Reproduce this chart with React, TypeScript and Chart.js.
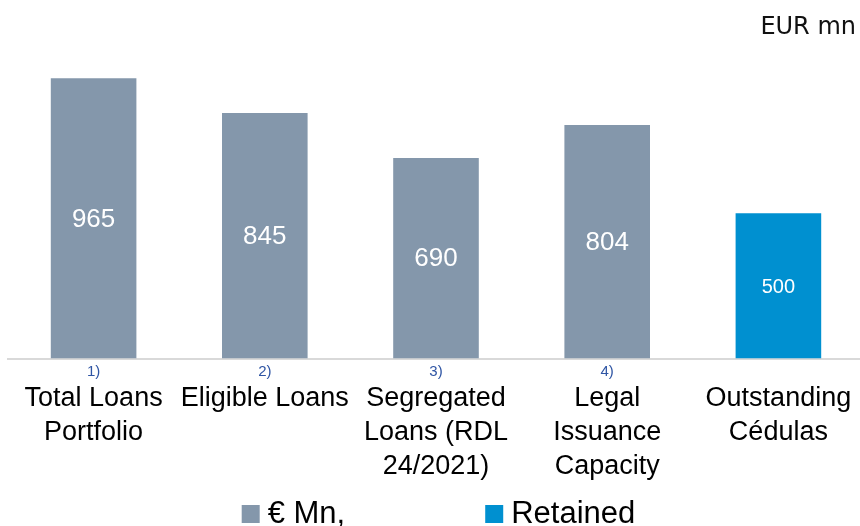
import React, { useEffect, useRef } from "react";
import { Chart, registerables } from "chart.js";

Chart.register(...registerables);

const categories: string[][] = [
  ["Total Loans", "Portfolio"],
  ["Eligible Loans"],
  ["Segregated", "Loans (RDL", "24/2021)"],
  ["Legal", "Issuance", "Capacity"],
  ["Outstanding", "Cédulas"],
];
const footnotes = ["1)", "2)", "3)", "4)", ""];
const seriesNames = ["€ Mn,", "Retained"];
const mnValues = [965, 845, 690, 804, null];
const retainedValues = [null, null, null, null, 500];
const unitLabel = "EUR mn";

const GRAY = "#8497AB";
const BLUE = "#0090D0";

const overlayPlugin = {
  id: "overlay",
  afterDatasetsDraw(chart: any) {
    const ctx = chart.ctx as CanvasRenderingContext2D;
    ctx.save();
    // value labels inside bars
    chart.data.datasets.forEach((ds: any, di: number) => {
      const meta = chart.getDatasetMeta(di);
      meta.data.forEach((el: any, i: number) => {
        const v = ds.data[i];
        if (v == null) return;
        const p = el.getProps(["x", "y", "base"], true);
        ctx.font = di === 0 ? '26px "Liberation Sans"' : '20px "Liberation Sans"';
        ctx.fillStyle = "#ffffff";
        ctx.textAlign = "center";
        ctx.textBaseline = "middle";
        ctx.fillText(String(v), p.x, (p.y + p.base) / 2 + (di === 0 ? 1 : 2));
      });
    });
    // footnote markers under axis
    const xs = chart.scales.x;
    ctx.font = '15px "Liberation Sans"';
    ctx.fillStyle = "#2F55A4";
    ctx.textAlign = "center";
    ctx.textBaseline = "middle";
    footnotes.forEach((f, i) => {
      if (!f) return;
      ctx.fillText(f, xs.getPixelForValue(i), xs.top + 13);
    });
    // unit label
    ctx.font = '24px "DejaVu Sans"';
    ctx.fillStyle = "#111";
    ctx.textAlign = "right";
    ctx.textBaseline = "middle";
    ctx.fillText(unitLabel, 856, 28);
    // legend
    ctx.font = '31px "Liberation Sans"';
    const box = 18;
    const gapText = 8;
    const gapItems = 140;
    const widths = chart.data.datasets.map(
      (ds: any) => box + gapText + ctx.measureText(ds.label).width
    );
    const total = widths.reduce((a: number, b: number) => a + b, 0) + gapItems * (widths.length - 1);
    let x = 438.5 - total / 2;
    const cy = 514;
    chart.data.datasets.forEach((ds: any, di: number) => {
      ctx.fillStyle = ds.backgroundColor;
      ctx.fillRect(x, cy - box / 2, box, box);
      ctx.fillStyle = "#000";
      ctx.textAlign = "left";
      ctx.textBaseline = "middle";
      ctx.fillText(ds.label, x + box + gapText, cy);
      x += widths[di] + gapItems;
    });
    ctx.restore();
  },
};

export default function App() {
  const ref = useRef<HTMLCanvasElement | null>(null);
  useEffect(() => {
    if (!ref.current) return;
    const chart = new Chart(ref.current, {
      type: "bar",
      data: {
        labels: categories,
        datasets: [
          {
            label: seriesNames[0],
            data: mnValues,
            backgroundColor: GRAY,
            grouped: false,
            barPercentage: 0.5,
            categoryPercentage: 1,
          } as any,
          {
            label: seriesNames[1],
            data: retainedValues,
            backgroundColor: BLUE,
            grouped: false,
            barPercentage: 0.5,
            categoryPercentage: 1,
          } as any,
        ],
      },
      options: {
        responsive: false,
        maintainAspectRatio: false,
        animation: false,
        layout: { padding: { left: 8, right: 6, top: 68, bottom: 0 } },
        plugins: {
          legend: { display: false },
          tooltip: { enabled: false },
          title: { display: false },
        },
        scales: {
          x: {
            grid: { display: false, drawTicks: false },
            border: { display: true, color: "#D9D9D9", width: 2 },
            ticks: {
              color: "#000",
              font: { family: "Liberation Sans", size: 27, lineHeight: "34px" },
              padding: 23,
              maxRotation: 0,
              minRotation: 0,
              autoSkip: false,
            },
            afterFit(scale: any) {
              scale.height = 526 - 358.5;
              scale.paddingLeft = 0;
              scale.paddingRight = 0;
            },
          },
          y: {
            display: false,
            min: 0,
            max: 1000,
          },
        },
      },
      plugins: [overlayPlugin],
    });
    return () => chart.destroy();
  }, []);
  return (
    <div
      style={{
        position: "absolute",
        left: 0,
        top: 0,
        width: 860,
        height: 526,
        overflow: "hidden",
        background: "#fff",
      }}
    >
      <canvas ref={ref} width={870} height={526} style={{ width: 870, height: 526, display: "block" }} />
    </div>
  );
}
